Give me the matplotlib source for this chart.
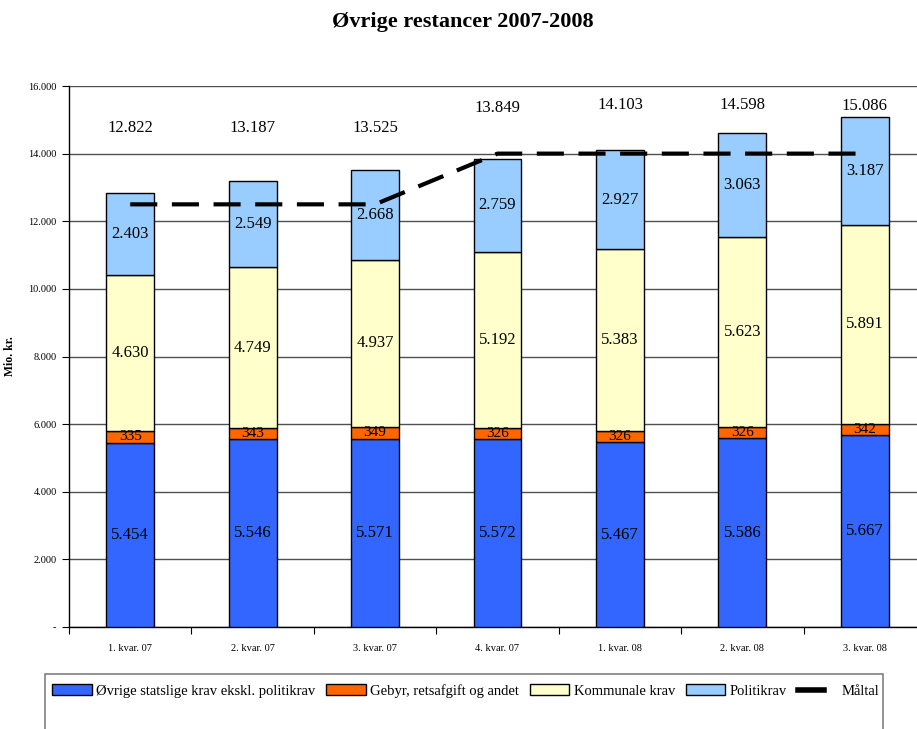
import matplotlib
matplotlib.use("Agg")
import matplotlib.pyplot as plt
from matplotlib.patches import Patch, Rectangle
from matplotlib.lines import Line2D
from matplotlib.legend_handler import HandlerLine2D
import numpy as np

categories = ["1. kvar. 07", "2. kvar. 07", "3. kvar. 07", "4. kvar. 07",
              "1. kvar. 08", "2. kvar. 08", "3. kvar. 08"]
statslige = [5454, 5546, 5571, 5572, 5467, 5586, 5667]
gebyr = [335, 343, 349, 326, 326, 326, 342]
kommunale = [4630, 4749, 4937, 5192, 5383, 5623, 5891]
politikrav = [2403, 2549, 2668, 2759, 2927, 3063, 3187]
maltal = [12500, 12500, 12500, 14000, 14000, 14000, 14000]
totals = [12822, 13187, 13525, 13849, 14103, 14598, 15086]
yticks = [0, 2000, 4000, 6000, 8000, 10000, 12000, 14000, 16000]
ytick_labels = ["-", "2.000", "4.000", "6.000", "8.000", "10.000", "12.000", "14.000", "16.000"]

# layout: vertical position of the total labels (data units)
total_label_y = [14760, 14760, 14760, 15350, 15440, 15440, 15420]

series = [statslige, gebyr, kommunale, politikrav]
names = ["Øvrige statslige krav ekskl. politikrav", "Gebyr, retsafgift og andet",
         "Kommunale krav", "Politikrav"]
colors = ["#3366FF", "#FF6600", "#FFFFCC", "#99CCFF"]

def fmt(v):
    return f"{v:,}".replace(",", ".")

plt.rcParams['font.family'] = ['Liberation Serif', 'DejaVu Serif']

W, H = 917, 729
fig = plt.figure(figsize=(W / 100, H / 100), dpi=100)
ax = fig.add_axes([69 / W, (H - 627) / H, (926 - 69) / W, (627 - 86) / H])

x = np.arange(len(categories))
bw = 0.39
bottom = np.zeros(len(categories))
for i, (vals, c) in enumerate(zip(series, colors)):
    vals = np.array(vals)
    ax.bar(x, vals, bw, bottom=bottom, color=c, edgecolor="black", linewidth=1.0, zorder=3)
    for xi, b, v in zip(x, bottom, vals):
        fs = 11 if i == 1 else 12
        ax.text(xi, b + v / 2, fmt(int(v)), ha="center", va="center", fontsize=fs, zorder=5)
    bottom += vals

ax.plot(x, maltal, color="black", linewidth=3.0, dashes=(6.5, 3.5), zorder=6)

for xi, t, ty in zip(x, totals, total_label_y):
    ax.text(xi, ty, fmt(t), ha="center", va="center", fontsize=12)

ax.set_xlim(-0.5, len(categories) - 0.5)
ax.set_ylim(0, 16000)
ax.set_yticks(yticks)
ax.set_yticklabels(ytick_labels, fontsize=7.5)
ax.yaxis.grid(True, color="#505050", linewidth=1.0, zorder=0)
ax.set_axisbelow(True)

ax.set_xticks(x)
ax.set_xticklabels(categories, fontsize=7.5)
ax.tick_params(axis="x", length=0, pad=12)
ax.set_xticks(np.arange(len(categories) + 1) - 0.5, minor=True)
ax.tick_params(axis="x", which="minor", length=5, width=0.8, direction="out")
ax.tick_params(axis="y", length=5, width=0.8, direction="out", pad=4)

for s in ["top", "right"]:
    ax.spines[s].set_visible(False)
ax.spines["left"].set_linewidth(1.0)
ax.spines["bottom"].set_linewidth(1.0)

ax.set_ylabel("Mio. kr.", fontsize=8.5, fontweight="bold")
ax.yaxis.set_label_coords((16 - 69) / (926 - 69), 0.5)

fig.text(463 / W, 1 - 22 / H, "Øvrige restancer 2007-2008", ha="center", va="center",
         fontsize=16, fontweight="bold")


class ShortLineHandler(HandlerLine2D):
    def get_xdata(self, legend, xdescent, ydescent, width, height, fontsize):
        xd = np.array([0.0, 0.66 * width]) - xdescent
        return xd, xd


# legend box
fig.patches.append(Rectangle((45 / W, -0.05), (883 - 45) / W, 0.05 + (H - 674) / H,
                             transform=fig.transFigure, facecolor="white",
                             edgecolor="#808080", linewidth=1.2))
handles = [Patch(facecolor=c, edgecolor="black", linewidth=1.0) for c in colors]
mline = Line2D([0], [0], color="black", linewidth=4)
handles.append(mline)
leg = fig.legend(handles, names + ["Måltal"], loc="center left",
                 bbox_to_anchor=(45 / W, 1 - 691 / H), ncol=5, frameon=False,
                 fontsize=10.5, handlelength=2.7, handleheight=0.8,
                 handletextpad=0.3, columnspacing=0.75, borderpad=0,
                 handler_map={mline: ShortLineHandler()})

fig.savefig("out.png", dpi=100)
